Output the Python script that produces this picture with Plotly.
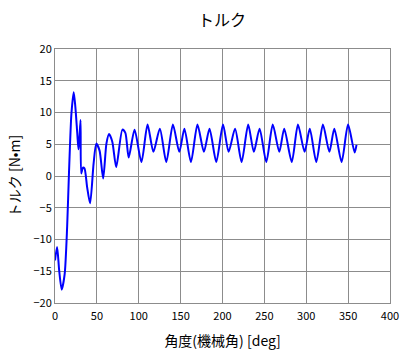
import plotly.graph_objects as go

# Angle [deg] and torque [N·m]
angle = [0.0, 2.5, 5.0, 8.0, 11.5, 14.5, 16.8, 19.6, 22.3, 24.3, 26.6, 28.0, 29.0, 30.5,
         31.3, 33.3, 35.2, 38.3, 41.9, 46.1, 49.3, 53.2, 57.5, 61.4, 64.5, 68.4, 73.1,
         80.5, 84.0, 88.0, 95.0, 103.2,
         110.5, 117.5, 125.2, 132.9, 140.8, 148.4, 154.5, 162.3, 170.1, 177.8, 184.5, 192.6,
         200.6, 207.3, 215.0, 222.8, 230.7, 237.4, 244.3, 252.3, 260.0, 267.8, 273.7, 282.7,
         290.1, 298.0, 304.2, 312.0, 319.9, 327.6, 333.5, 342.2, 349.9, 357.8, 360.0]
torque = [-13.3, -11.2, -14.9, -17.9, -15.5, -8.0, 0.9, 9.8, 13.2, 10.9, 6.7, 4.2, 5.6, 8.8,
          0.4, 1.3, 1.2, -1.7, -4.3, 2.0, 5.1, 4.0, -0.4, 5.1, 6.6, 5.4, 1.4,
          7.3, 6.8, 2.9, 7.3, 2.2,
          8.1, 3.8, 7.45, 2.2, 8.1, 3.8, 7.45, 2.2, 8.1, 3.8, 7.45, 2.2,
          8.1, 3.8, 7.45, 2.2, 8.1, 3.8, 7.45, 2.2, 8.1, 3.8, 7.45, 2.2,
          8.1, 3.8, 7.45, 2.2, 8.1, 3.8, 7.45, 2.2, 8.1, 3.7, 4.9]

x_ticks = [0, 50, 100, 150, 200, 250, 300, 350, 400]
y_ticks = [-20, -15, -10, -5, 0, 5, 10, 15, 20]

FONT = "Noto Sans CJK JP"
GRID = "#8c8c8c"

fig = go.Figure()
fig.add_trace(go.Scatter(x=angle, y=torque, mode="lines",
                         line=dict(color="#0000ff", width=2, shape="spline", smoothing=0.7),
                         showlegend=False, hoverinfo="skip"))

fig.update_layout(
    width=411, height=358,
    margin=dict(l=55, r=15, t=49, b=55),
    paper_bgcolor="white", plot_bgcolor="white",
    font=dict(family=FONT, size=11, color="black"),
    title=dict(text="トルク", x=222/411, xanchor="center", y=1-20/358, yanchor="middle",
               font=dict(family=FONT, size=16, color="black")),
)
fig.update_xaxes(range=[0, 400], tickvals=x_ticks, showgrid=True, gridcolor=GRID, gridwidth=1,
                 showline=True, linecolor=GRID, linewidth=1, mirror=True, zeroline=False,
                 ticks="", tickfont=dict(size=11), ticklabelstandoff=3,
                 title=dict(text="角度(機械角) [deg]", font=dict(size=14), standoff=13))
fig.update_yaxes(range=[-20, 20], tickvals=y_ticks, showgrid=True, gridcolor=GRID, gridwidth=1,
                 showline=True, linecolor=GRID, linewidth=1, mirror=True, zeroline=False,
                 ticks="", tickfont=dict(size=11),
                 title=dict(text="トルク [N•m]", font=dict(size=14), standoff=9))

fig.write_html("out.html")
